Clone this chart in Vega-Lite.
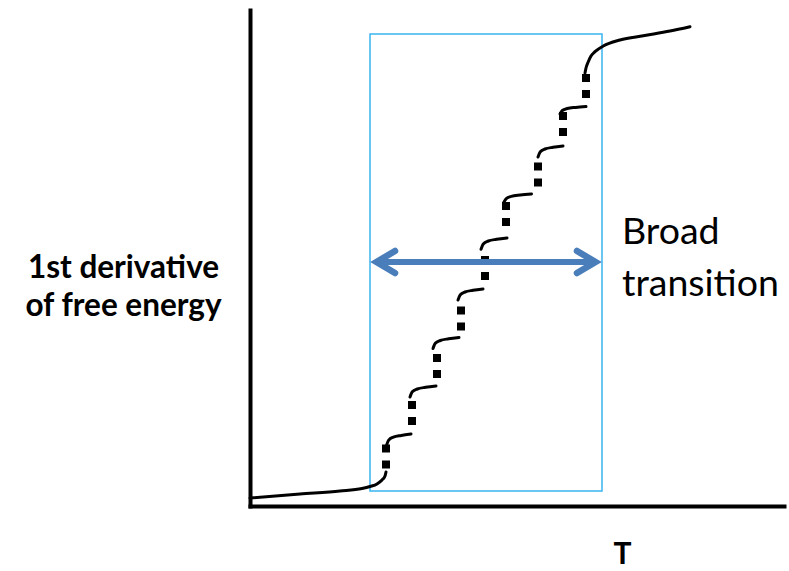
{
  "$schema": "https://vega.github.io/schema/vega-lite/v6.json",
  "width": 534,
  "height": 496,
  "autosize": {"type": "none"},
  "padding": {"left": 250, "top": 10, "right": 5, "bottom": 65},
  "background": "white",
  "config": {
    "view": {"stroke": null},
    "axis": {"grid": false, "ticks": false, "labels": false, "domainColor": "black", "domainWidth": 4, "domainCap": "square"}
  },
  "datasets": {
    "curve": [
      {"seg": 0, "T": 0, "Y": 0.8}, {"seg": 0, "T": 5, "Y": 1.2}, {"seg": 0, "T": 9, "Y": 1.5}, {"seg": 0, "T": 11.2, "Y": 1.75}, {"seg": 0, "T": 12, "Y": 1.95}, {"seg": 0, "T": 12.7, "Y": 2.2}, {"seg": 0, "T": 13.2, "Y": 2.6}, {"seg": 0, "T": 13.5, "Y": 3.0}, {"seg": 0, "T": 13.6, "Y": 3.4},
      {"seg": 1, "T": 13.65, "Y": 6.05}, {"seg": 1, "T": 13.87, "Y": 6.59}, {"seg": 1, "T": 14.34, "Y": 6.89}, {"seg": 1, "T": 15.12, "Y": 7.06}, {"seg": 1, "T": 16.1, "Y": 7.2},
      {"seg": 2, "T": 16.0, "Y": 10.9}, {"seg": 2, "T": 16.23, "Y": 11.42}, {"seg": 2, "T": 16.73, "Y": 11.7}, {"seg": 2, "T": 17.56, "Y": 11.87}, {"seg": 2, "T": 18.6, "Y": 12.0},
      {"seg": 3, "T": 18.3, "Y": 15.75}, {"seg": 3, "T": 18.53, "Y": 16.27}, {"seg": 3, "T": 19.03, "Y": 16.55}, {"seg": 3, "T": 19.86, "Y": 16.72}, {"seg": 3, "T": 20.9, "Y": 16.85},
      {"seg": 4, "T": 20.8, "Y": 20.6}, {"seg": 4, "T": 21.03, "Y": 21.12}, {"seg": 4, "T": 21.5, "Y": 21.4}, {"seg": 4, "T": 22.3, "Y": 21.57}, {"seg": 4, "T": 23.3, "Y": 21.7},
      {"seg": 5, "T": 23.1, "Y": 25.67}, {"seg": 5, "T": 23.33, "Y": 26.2}, {"seg": 5, "T": 23.83, "Y": 26.5}, {"seg": 5, "T": 24.66, "Y": 26.67}, {"seg": 5, "T": 25.7, "Y": 26.8},
      {"seg": 6, "T": 25.35, "Y": 30.3}, {"seg": 6, "T": 25.6, "Y": 30.72}, {"seg": 6, "T": 26.13, "Y": 30.96}, {"seg": 6, "T": 27.03, "Y": 31.09}, {"seg": 6, "T": 28.15, "Y": 31.2},
      {"seg": 7, "T": 28.8, "Y": 34.9}, {"seg": 7, "T": 29.03, "Y": 35.42}, {"seg": 7, "T": 29.5, "Y": 35.7}, {"seg": 7, "T": 30.3, "Y": 35.87}, {"seg": 7, "T": 31.3, "Y": 36.0},
      {"seg": 8, "T": 31.0, "Y": 39.2}, {"seg": 8, "T": 31.23, "Y": 39.55}, {"seg": 8, "T": 31.73, "Y": 39.75}, {"seg": 8, "T": 32.56, "Y": 39.86}, {"seg": 8, "T": 33.6, "Y": 39.95},
      {"seg": 9, "T": 33.5, "Y": 43.3}, {"seg": 9, "T": 33.6, "Y": 43.8}, {"seg": 9, "T": 33.83, "Y": 44.43}, {"seg": 9, "T": 34.1, "Y": 45.0}, {"seg": 9, "T": 34.5, "Y": 45.43}, {"seg": 9, "T": 35.33, "Y": 46.0}, {"seg": 9, "T": 37.0, "Y": 46.6}, {"seg": 9, "T": 39.33, "Y": 47.03}, {"seg": 9, "T": 42.0, "Y": 47.5}, {"seg": 9, "T": 44.0, "Y": 47.93}
    ],
    "dots": [
      {"step": 1, "ord": 0, "T": 13.6, "Y": 3.75}, {"step": 1, "ord": 1, "T": 13.6, "Y": 6.15},
      {"step": 2, "ord": 0, "T": 16.2, "Y": 8.1}, {"step": 2, "ord": 1, "T": 16.2, "Y": 10.5},
      {"step": 3, "ord": 0, "T": 18.7, "Y": 12.8}, {"step": 3, "ord": 1, "T": 18.7, "Y": 15.2},
      {"step": 4, "ord": 0, "T": 21.1, "Y": 17.55}, {"step": 4, "ord": 1, "T": 21.1, "Y": 19.95},
      {"step": 5, "ord": 0, "T": 23.5, "Y": 22.6}, {"step": 5, "ord": 1, "T": 23.5, "Y": 25.0},
      {"step": 6, "ord": 0, "T": 25.6, "Y": 28.0}, {"step": 6, "ord": 1, "T": 25.6, "Y": 30.4},
      {"step": 7, "ord": 0, "T": 28.8, "Y": 31.95}, {"step": 7, "ord": 1, "T": 28.8, "Y": 34.35},
      {"step": 8, "ord": 0, "T": 31.3, "Y": 37.0}, {"step": 8, "ord": 1, "T": 31.3, "Y": 39.4},
      {"step": 9, "ord": 0, "T": 33.6, "Y": 40.8}, {"step": 9, "ord": 1, "T": 33.6, "Y": 43.2}
    ],
    "box": [{"T1": 12.0, "T2": 35.2, "Y1": 1.5, "Y2": 47.2}],
    "shaft": [{"T": 12.6, "Y": 24.4}, {"T": 34.6, "Y": 24.4}],
    "heads": [
      {"side": "left", "ord": 0, "T": 14.5, "Y": 25.5}, {"side": "left", "ord": 1, "T": 12.65, "Y": 24.4}, {"side": "left", "ord": 2, "T": 14.5, "Y": 23.3},
      {"side": "right", "ord": 0, "T": 32.7, "Y": 25.5}, {"side": "right", "ord": 1, "T": 34.55, "Y": 24.4}, {"side": "right", "ord": 2, "T": 32.7, "Y": 23.3}
    ],
    "label": [{"T": 37.2, "Y": 26.2, "text": "Broad\ntransition"}]
  },
  "encoding": {
    "x": {"type": "quantitative", "scale": {"domain": [0, 53.4], "nice": false, "zero": false},
      "axis": {"title": "T", "titleFont": "Lato", "titleFontWeight": "bold", "titleFontSize": 30, "titleColor": "black", "titleX": 372, "titleY": 57, "titleAlign": "center", "titleBaseline": "alphabetic", "titleAnchor": null}},
    "y": {"type": "quantitative", "scale": {"domain": [0, 49.6], "nice": false, "zero": false},
      "axis": {"title": ["1st derivative", "of free energy"], "titleFont": "Lato", "titleFontWeight": "bold", "titleFontSize": 31.5, "titleColor": "black", "titleAngle": 0, "titleX": -127, "titleY": 267, "titleAlign": "center", "titleBaseline": "alphabetic", "titleLineHeight": 38, "titleAnchor": null}}
  },
  "layer": [
    {
      "data": {"name": "box"},
      "mark": {"type": "rect", "fill": null, "stroke": "#3AB4F0", "strokeWidth": 1.5},
      "encoding": {
        "x": {"field": "T1", "type": "quantitative"}, "x2": {"field": "T2"},
        "y": {"field": "Y1", "type": "quantitative"}, "y2": {"field": "Y2"}
      }
    },
    {
      "data": {"name": "curve"},
      "mark": {"type": "line", "color": "black", "strokeWidth": 3, "strokeCap": "round", "interpolate": "monotone"},
      "encoding": {
        "x": {"field": "T", "type": "quantitative"},
        "y": {"field": "Y", "type": "quantitative"},
        "detail": {"field": "seg"}
      }
    },
    {
      "data": {"name": "dots"},
      "mark": {"type": "line", "color": "black", "strokeWidth": 8, "strokeDash": [8, 8], "strokeCap": "butt"},
      "encoding": {
        "x": {"field": "T", "type": "quantitative"},
        "y": {"field": "Y", "type": "quantitative"},
        "detail": {"field": "step"},
        "order": {"field": "ord"}
      }
    },
    {
      "data": {"name": "shaft"},
      "mark": {"type": "line", "color": "#4A7EBB", "strokeWidth": 6, "strokeCap": "butt"},
      "encoding": {
        "x": {"field": "T", "type": "quantitative"},
        "y": {"field": "Y", "type": "quantitative"}
      }
    },
    {
      "data": {"name": "heads"},
      "mark": {"type": "line", "color": "#4A7EBB", "strokeWidth": 6.5, "strokeCap": "round", "strokeJoin": "miter"},
      "encoding": {
        "x": {"field": "T", "type": "quantitative"},
        "y": {"field": "Y", "type": "quantitative"},
        "detail": {"field": "side"},
        "order": {"field": "ord"}
      }
    },
    {
      "data": {"name": "label"},
      "mark": {"type": "text", "align": "left", "baseline": "alphabetic", "font": "Lato", "fontSize": 37.5, "lineBreak": "\n", "lineHeight": 52, "color": "black"},
      "encoding": {
        "x": {"field": "T", "type": "quantitative"},
        "y": {"field": "Y", "type": "quantitative"},
        "text": {"field": "text"}
      }
    }
  ]
}
